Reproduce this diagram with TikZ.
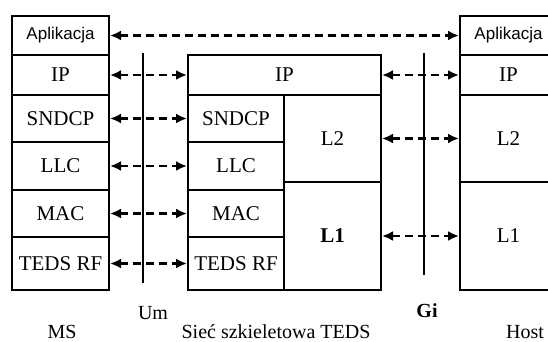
\documentclass[tikz,border=0pt]{standalone}
\usepackage{fontspec}
\setmainfont{Liberation Serif}
\newfontfamily\appfont{Liberation Sans}
\usetikzlibrary{arrows.meta}

\begin{document}
\begin{tikzpicture}[x=1pt,y=-1pt,font=\fontsize{21}{24}\selectfont,
  layer/.style={draw,line width=2pt,inner sep=0pt,anchor=north west,minimum width=97},
  peer/.style={line width=2.6pt,dash pattern=on 8pt off 5pt,
    {Latex[length=11pt,width=10pt]}-{Latex[length=11pt,width=10pt]}},
  iface/.style={line width=1.6pt},
  caption/.style={font=\fontsize{20}{22}\selectfont,inner sep=0pt,anchor=base}]
\useasboundingbox (0,0) rectangle (548,342);
% MS stack
\node[layer,minimum height=39,font=\appfont\fontsize{17}{20}\selectfont] (ms-app) at (11,15) {Aplikacja};
\foreach \n/\t/\y/\h in {ip/IP/54/40, sndcp/SNDCP/94/47, llc/LLC/141/48, mac/MAC/189/47, rf/TEDS RF/236/53}
  { \node[layer,minimum height=\h] (ms-\n) at (11,\y) {\t}; }
% TEDS core network
\node[layer,minimum width=193,minimum height=40] (mid-ip) at (187,54) {IP};
\foreach \n/\t/\y/\h in {sndcp/SNDCP/94/47, llc/LLC/141/48, mac/MAC/189/47, rf/TEDS RF/236/53}
  { \node[layer,minimum width=96,minimum height=\h] (mid-\n) at (187,\y) {\t}; }
\node[layer,minimum height=87] (mid-l2) at (283,94) {L2};
\node[layer,minimum height=108,font=\fontsize{21}{24}\selectfont\bfseries] (mid-l1) at (283,181) {L1};
% Host stack
\node[layer,minimum height=39,font=\appfont\fontsize{17}{20}\selectfont] (host-app) at (459,15) {Aplikacja};
\node[layer,minimum height=40] (host-ip) at (459,54) {IP};
\node[layer,minimum height=87] (host-l2) at (459,94) {L2};
\node[layer,minimum height=108] (host-l1) at (459,181) {L1};
% interfaces
\coordinate (um-top) at (143,53);
\coordinate (um-bot) at (143,283);
\coordinate (gi-top) at (424,53);
\coordinate (gi-bot) at (424,275);
\draw[iface] (um-top) -- (um-bot);
\draw[iface] (gi-top) -- (gi-bot);
% peer links
\draw[peer] (ms-app.east) -- (host-app.west);
\foreach \n in {ip,sndcp,llc,mac,rf} { \draw[peer] (ms-\n.east) -- (mid-\n.west); }
\foreach \n in {ip,l2,l1} { \draw[peer] (mid-\n.east) -- (host-\n.west); }
% labels
\node[caption] (ms) at (62,338) {MS};
\node[caption] (um) at (153,319) {Um};
\node[caption] (core) at (276,338) {Sieć szkieletowa TEDS};
\node[caption,font=\fontsize{20}{22}\selectfont\bfseries] (gi) at (427,317) {Gi};
\node[caption] (host) at (525,338) {Host};
\end{tikzpicture}
\end{document}
